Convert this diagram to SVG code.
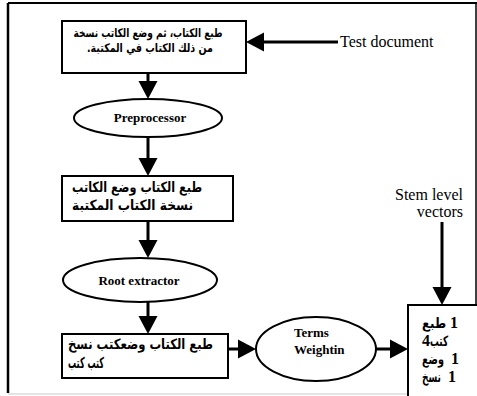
<svg xmlns="http://www.w3.org/2000/svg" width="477" height="396" viewBox="0 0 477 396">
<style>
.box{fill:#fff;stroke:#000;stroke-width:2}
.ell{fill:#fff;stroke:#000;stroke-width:2}
.conn{stroke:#000;stroke-width:3;fill:none}
.ar{font-family:"DejaVu Sans",sans-serif;font-weight:bold;fill:#000}
.en{font-family:"Liberation Serif","DejaVu Serif",serif;font-weight:bold;font-size:13px;fill:#000}
.lbl{font-family:"Liberation Serif","DejaVu Serif",serif;font-size:16px;fill:#000}
.vec{font-family:"DejaVu Sans",sans-serif;font-weight:bold;font-size:14px;fill:#000}
.num{font-family:"Liberation Serif","DejaVu Serif",serif;font-weight:bold;font-size:16px;fill:#000}
</style>
<defs>
<marker id="ah" markerUnits="userSpaceOnUse" markerWidth="18" markerHeight="19" refX="0" refY="9.5" orient="auto" overflow="visible">
<path d="M0,0 L18,9.5 L0,19 Z" fill="#000"/>
</marker>
</defs>
<rect width="477" height="396" fill="#fff"/>
<g id="frame">
<line x1="8" y1="3" x2="477" y2="3" stroke="#000" stroke-width="2"/>
<line x1="8" y1="3" x2="8" y2="393" stroke="#000" stroke-width="2.5"/>
<line x1="476" y1="3" x2="476" y2="393" stroke="#000" stroke-width="1.5"/>
<line x1="8" y1="394" x2="477" y2="394" stroke="#ddd" stroke-width="1.5"/>
</g>
<g id="connectors">
<line class="conn" x1="338" y1="42" x2="264" y2="42" marker-end="url(#ah)"/>
<line class="conn" x1="148" y1="73" x2="148" y2="81" marker-end="url(#ah)"/>
<line class="conn" x1="148" y1="137" x2="148" y2="158" marker-end="url(#ah)"/>
<line class="conn" x1="148" y1="221" x2="148" y2="240" marker-end="url(#ah)"/>
<line class="conn" x1="148" y1="302" x2="148" y2="316" marker-end="url(#ah)"/>
<line class="conn" x1="228" y1="349" x2="238" y2="349" marker-end="url(#ah)"/>
<line class="conn" x1="376" y1="349" x2="390" y2="349" marker-end="url(#ah)"/>
<line class="conn" x1="442" y1="222" x2="442" y2="287" marker-end="url(#ah)"/>
</g>
<g id="box1">
<rect class="box" x="62" y="21" width="184" height="52"/>
<text class="ar" font-size="12" direction="rtl" text-anchor="middle" x="148" y="37" textLength="149" lengthAdjust="spacingAndGlyphs">طبع الكتاب، ثم وضع الكاتب نسخة</text>
<text class="ar" font-size="12" direction="rtl" text-anchor="middle" x="150" y="52" textLength="126" lengthAdjust="spacingAndGlyphs">من ذلك الكتاب في المكتبة.</text>
</g>
<g id="test-document">
<text class="lbl" x="340" y="47">Test document</text>
</g>
<g id="preprocessor">
<ellipse class="ell" cx="148" cy="118" rx="74" ry="19"/>
<text class="en" x="150" y="122" text-anchor="middle">Preprocessor</text>
</g>
<g id="box2">
<rect class="box" x="62" y="176" width="171" height="45"/>
<text class="ar" font-size="14" direction="rtl" text-anchor="end" x="72" y="192" textLength="130" lengthAdjust="spacingAndGlyphs">طبع الكتاب وضع الكاتب</text>
<text class="ar" font-size="14" direction="rtl" text-anchor="end" x="72" y="210" textLength="121" lengthAdjust="spacingAndGlyphs">نسخة الكتاب المكتبة</text>
</g>
<g id="root-extractor">
<ellipse class="ell" cx="140" cy="280" rx="77" ry="22"/>
<text class="en" x="139" y="285" text-anchor="middle">Root extractor</text>
</g>
<g id="box3">
<rect class="box" x="62" y="334" width="166" height="44"/>
<text class="ar" font-size="14" direction="rtl" text-anchor="end" x="68" y="349" textLength="145" lengthAdjust="spacingAndGlyphs">طبع الكتاب وضعكتب نسخ</text>
<text class="ar" font-size="15" direction="rtl" text-anchor="end" x="68" y="368" textLength="36" lengthAdjust="spacingAndGlyphs">كتب كتب</text>
</g>
<g id="terms-weighting">
<ellipse class="ell" cx="316" cy="349" rx="60" ry="32"/>
<text class="en"><tspan x="294" y="337">Terms</tspan><tspan x="294" y="354">Weightin</tspan></text>
</g>
<g id="stem-label">
<text class="lbl" text-anchor="end"><tspan x="463" y="200">Stem level</tspan><tspan x="463" y="217">vectors</tspan></text>
</g>
<g id="vectors-box">
<rect class="box" x="408" y="305" width="80" height="100"/>
<text class="vec" x="422" y="328" textLength="24" lengthAdjust="spacingAndGlyphs">طبع</text>
<text class="num" x="450" y="328">1</text>
<text class="num" x="422" y="346">4</text>
<text class="vec" x="430" y="346" textLength="18" lengthAdjust="spacingAndGlyphs">كتب</text>
<text class="vec" x="422" y="364" textLength="22" lengthAdjust="spacingAndGlyphs">وضع</text>
<text class="num" x="451" y="364">1</text>
<text class="vec" x="422" y="382" textLength="19" lengthAdjust="spacingAndGlyphs">نسخ</text>
<text class="num" x="448" y="382">1</text>
</g>
</svg>
